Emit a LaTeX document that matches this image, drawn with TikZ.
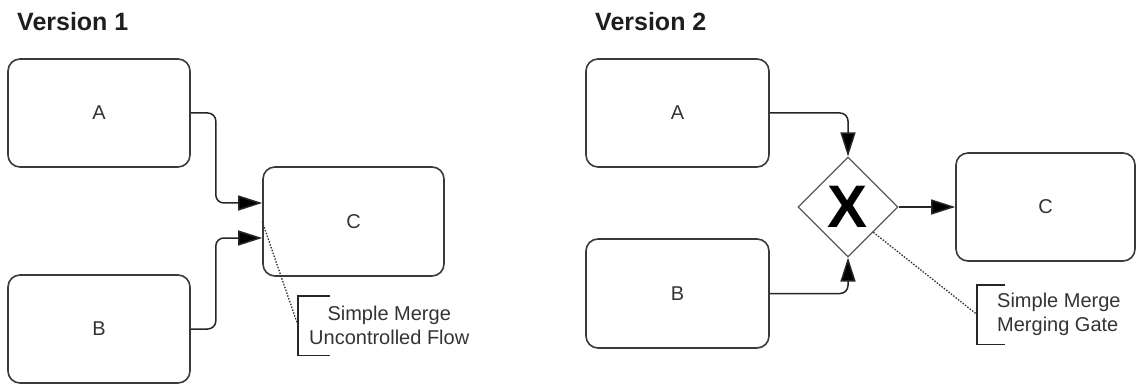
\documentclass[tikz,border=0pt]{standalone}
\usepackage{fontspec}
\setmainfont{Liberation Sans}
\usetikzlibrary{shapes.geometric,arrows.meta,calc}

\definecolor{boxline}{HTML}{3A3A3A}
\definecolor{flowline}{HTML}{262626}
\definecolor{gateline}{HTML}{5A5A5A}
\definecolor{labeltext}{HTML}{333333}
\definecolor{titletext}{HTML}{1E1E1E}

\begin{document}
\begin{tikzpicture}[x=1pt,y=-1pt,
  task/.style={draw=boxline, line width=1.6pt, rounded corners=12pt,
    minimum width=182pt, minimum height=108pt, inner sep=0pt,
    font=\fontsize{20}{22}\selectfont, text=labeltext},
  flow/.style={draw=flowline, line width=1.5pt, rounded corners=8pt,
    -{Triangle[length=24pt,width=15pt,fill=black]}},
  gate/.style={diamond, draw=gateline, line width=1.2pt,
    minimum width=100pt, minimum height=100pt, inner sep=0pt,
    font=\fontsize{60}{60}\selectfont\bfseries, text=black},
  note/.style={anchor=west, minimum height=59pt, inner ysep=0pt,
    font=\fontsize{20}{24}\selectfont, text=labeltext},
  bracket/.style={draw=flowline, line width=1.4pt},
  assoc/.style={draw=labeltext, line width=1.3pt, dash pattern=on 1.5pt off 1.5pt},
  title/.style={anchor=base west, inner sep=0pt,
    font=\fontsize{25}{28}\selectfont\bfseries, text=titletext}
]
\useasboundingbox (0,0) rectangle (1136,385);

% ---------- Version 1: uncontrolled flow ----------
\node[title] (T1) at (17,31) {Version 1};
\node[task] (A1) at (99,113) {A};
\node[task] (B1) at (99,329) {B};
\node[task, minimum width=181pt, minimum height=109pt] (C1) at (353.5,221.5) {C};

\coordinate (C1a) at ($(C1.west)+(0,-18.5)$);
\coordinate (C1b) at ($(C1.west)+(0,16.5)$);
\draw[flow] (A1.east) -- ++(25,0) |- (C1a);
\draw[flow] (B1.east) -- ++(25,0) |- (C1b);

\node[note, align=center, inner xsep=11pt] (N1) at (298,325.5)
  {Simple Merge\\Uncontrolled Flow};
\draw[bracket] ([xshift=32pt]N1.north west) -- (N1.north west)
  -- (N1.south west) -- ([xshift=32pt]N1.south west);
\draw[assoc] (C1.west) -- (N1.west);

% ---------- Version 2: merging gateway ----------
\node[title] (T2) at (595,31) {Version 2};
\node[task, minimum width=183pt] (A2) at (677.5,113) {A};
\node[task, minimum width=183pt, minimum height=109pt] (B2) at (677.5,293.5) {B};
\node[gate] (G) at (848,207) {X};
\node[task, minimum width=179pt] (C2) at (1045.5,207) {C};

\draw[flow] (A2.east) -| (G.north);
\draw[flow] (B2.east) -| (G.south);
\draw[flow] (G.east) -- (C2.west);

\node[note, align=left, inner xsep=20pt] (N2) at (977,314.5)
  {Simple Merge\\Merging Gate};
\draw[bracket] ([xshift=28pt]N2.north west) -- (N2.north west)
  -- (N2.south west) -- ([xshift=28pt]N2.south west);
\draw[assoc] (G.south east) -- (N2.west);
\end{tikzpicture}
\end{document}
